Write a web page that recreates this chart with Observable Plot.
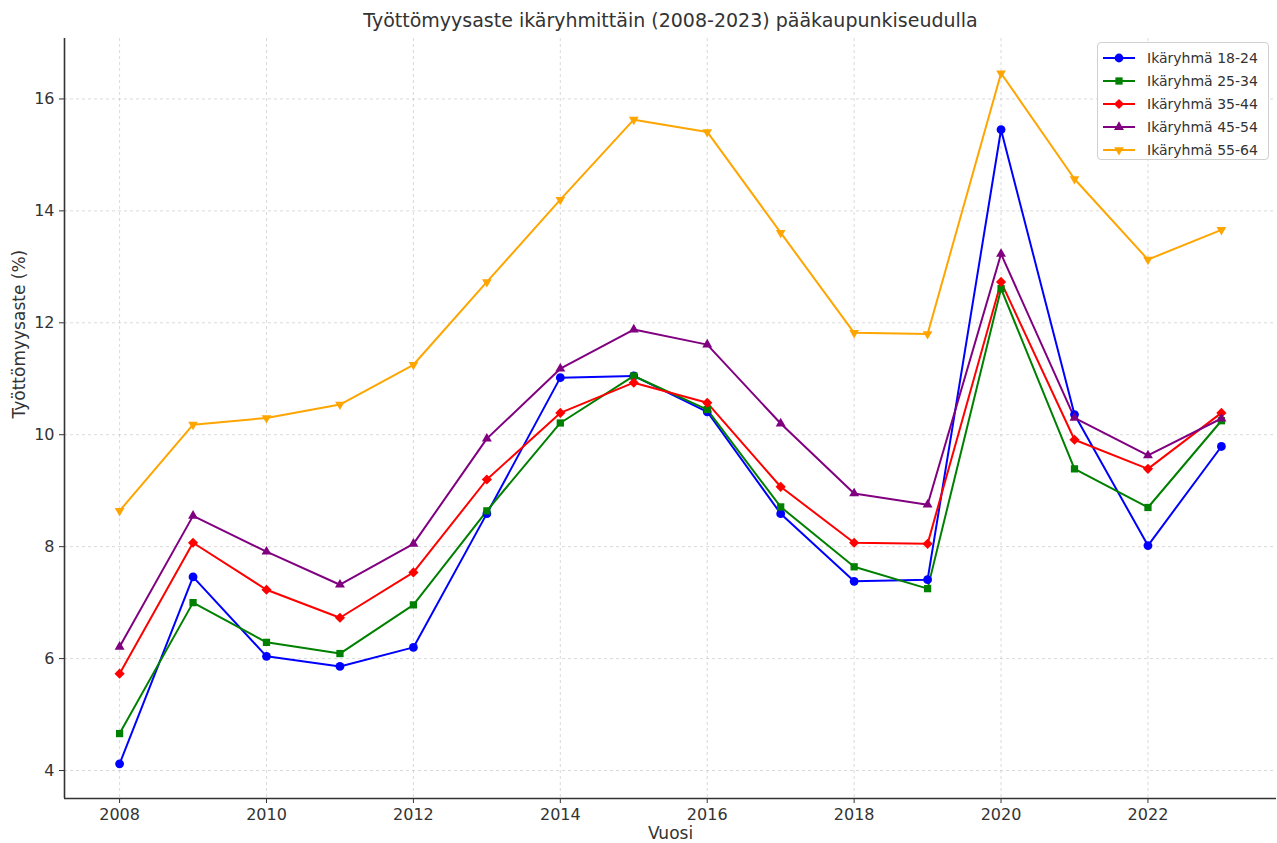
<!DOCTYPE html>
<html>
<head>
<meta charset="utf-8">
<script src="https://cdn.jsdelivr.net/npm/d3@7"></script>
<script src="https://cdn.jsdelivr.net/npm/@observablehq/plot@0.6"></script>
<style>
  html, body { margin: 0; padding: 0; background: #fff; }
  body { width: 1277px; height: 843px; position: relative; overflow: hidden; font-family: "DejaVu Sans", sans-serif; }
  #title { position: absolute; left: 64px; width: 1213px; top: 9px; text-align: center; font-size: 19px; color: #333; }
  #chart { position: absolute; left: 0; top: 38px; }
  #legend { position: absolute; left: 1097px; top: 42px; width: 172px; height: 118px; border: 1px solid #d0d0d0; border-radius: 4px; background: rgba(255,255,255,0.85); box-sizing: border-box; padding-top: 3px; }
  .row { display: flex; align-items: center; height: 23px; font-size: 14px; color: #333; }
  .row svg { margin-left: 4px; margin-right: 11px; }
</style>
</head>
<body>
<div id="title">Työttömyysaste ikäryhmittäin (2008-2023) pääkaupunkiseudulla</div>
<div id="chart"></div>
<div id="legend"></div>
<script>
const years = [2008,2009,2010,2011,2012,2013,2014,2015,2016,2017,2018,2019,2020,2021,2022,2023];
const groups = ["Ikäryhmä 18-24","Ikäryhmä 25-34","Ikäryhmä 35-44","Ikäryhmä 45-54","Ikäryhmä 55-64"];
const colors = ["blue","green","red","purple","orange"];
const g1824 = [4.12,7.46,6.04,5.86,6.20,8.59,11.02,11.05,10.41,8.59,7.38,7.41,15.45,10.36,8.02,9.79];
const g2534 = [4.66,7.00,6.29,6.09,6.96,8.64,10.21,11.05,10.45,8.71,7.64,7.25,12.61,9.39,8.70,10.25];
const g3544 = [5.73,8.07,7.23,6.73,7.54,9.20,10.39,10.93,10.57,9.07,8.07,8.05,12.73,9.91,9.39,10.39];
const g4554 = [6.21,8.55,7.91,7.32,8.05,9.93,11.18,11.88,11.61,10.20,8.95,8.75,13.23,10.30,9.63,10.29];
const g5564 = [8.64,10.18,10.30,10.54,11.25,12.73,14.20,15.63,15.41,13.61,11.82,11.80,16.46,14.57,13.13,13.66];
const xTicks = [2008,2010,2012,2014,2016,2018,2020,2022];
const yTicks = [4,6,8,10,12,14,16];

const series = [g1824,g2534,g3544,g4554,g5564];
const data = [];
series.forEach((vals, i) => vals.forEach((v, j) => data.push({year: years[j], value: v, group: groups[i]})));

const triangleDown = {
  draw(context, size) {
    const y = -Math.sqrt(size / (3 * Math.sqrt(3)));
    context.moveTo(0, -y * 2);
    context.lineTo(-Math.sqrt(3) * y, y);
    context.lineTo(Math.sqrt(3) * y, y);
    context.closePath();
  }
};
const symbols = [d3.symbolCircle, d3.symbolSquare, d3.symbolDiamond2 || d3.symbolSquare, d3.symbolTriangle, triangleDown];
const sizes = [4.4, 4.1, 4.6, 3.7, 3.6];

const chart = Plot.plot({
  width: 1277,
  height: 805,
  marginLeft: 64,
  marginRight: 1,
  marginTop: 0,
  marginBottom: 45,
  style: {fontFamily: "DejaVu Sans, sans-serif", fontSize: "16px", color: "#333", background: "white"},
  x: {domain: [2007.25, 2023.75]},
  y: {domain: [3.5, 17.08]},
  color: {domain: groups, range: colors},
  symbol: {domain: groups, range: symbols},
  marks: [
    Plot.gridX(xTicks, {stroke: "#b0b0b0", strokeOpacity: 0.6, strokeDasharray: "3,3", strokeWidth: 0.8}),
    Plot.gridY(yTicks, {stroke: "#b0b0b0", strokeOpacity: 0.6, strokeDasharray: "3,3", strokeWidth: 0.8}),
    Plot.axisX({ticks: xTicks, tickFormat: d3.format("d"), tickSize: 5, tickPadding: 5, label: null, fontSize: 16, stroke: "#333"}),
    Plot.axisY({ticks: yTicks, tickFormat: d3.format("d"), tickSize: 5, tickPadding: 5, label: null, fontSize: 16, stroke: "#333"}),
    Plot.ruleX([2007.25], {stroke: "#333", strokeWidth: 1.6}),
    Plot.ruleY([3.5], {stroke: "#333", strokeWidth: 1.6}),
    Plot.line(data, {x: "year", y: "value", z: "group", stroke: "group", strokeWidth: 2}),
    ...groups.map((g, i) => Plot.dot(data.filter(d => d.group === g), {x: "year", y: "value", symbol: "group", fill: "group", stroke: "none", r: sizes[i]})),
    Plot.text(["Vuosi"], {frameAnchor: "bottom", dy: 40, fontSize: 17, fill: "#333", text: d => d}),
    Plot.text(["Työttömyysaste (%)"], {frameAnchor: "left", dx: -45, rotate: -90, fontSize: 17, fill: "#333", text: d => d})
  ]
});
document.getElementById("chart").appendChild(chart);

// Legend
const legend = d3.select("#legend");
groups.forEach((g, i) => {
  const row = legend.append("div").attr("class", "row");
  const svg = row.append("svg").attr("width", 34).attr("height", 14);
  svg.append("line").attr("x1", 1).attr("x2", 33).attr("y1", 7).attr("y2", 7)
    .attr("stroke", colors[i]).attr("stroke-width", 2);
  const r = sizes[i];
  svg.append("path").attr("transform", "translate(17,7)")
    .attr("d", d3.symbol(symbols[i], Math.PI * r * r)())
    .attr("fill", colors[i]);
  row.append("span").text(g);
});
</script>
</body>
</html>
